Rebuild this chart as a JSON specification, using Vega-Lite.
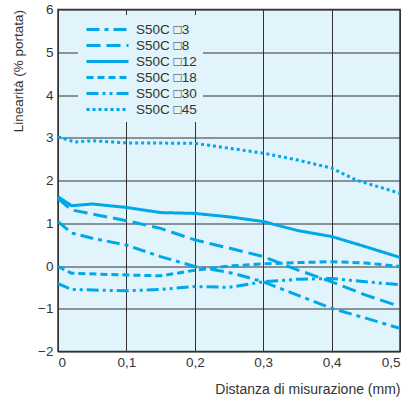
{
  "$schema": "https://vega.github.io/schema/vega-lite/v6.json",
  "width": 342,
  "height": 342,
  "autosize": "none",
  "padding": {"left": 58, "top": 9.5, "right": 13, "bottom": 48.5},
  "background": "white",
  "config": {
    "view": {"fill": "#E1F3FB", "stroke": "#333333", "strokeWidth": 1.5},
    "font": "Liberation Sans"
  },
  "data": {
    "values": [
      {"s": "S50C □3", "o": 1, "x": 0, "y": 1.04},
      {"s": "S50C □3", "o": 1, "x": 0.02, "y": 0.77},
      {"s": "S50C □3", "o": 1, "x": 0.05, "y": 0.65},
      {"s": "S50C □3", "o": 1, "x": 0.1, "y": 0.49},
      {"s": "S50C □3", "o": 1, "x": 0.15, "y": 0.22},
      {"s": "S50C □3", "o": 1, "x": 0.2, "y": -0.01},
      {"s": "S50C □3", "o": 1, "x": 0.256, "y": -0.17},
      {"s": "S50C □3", "o": 1, "x": 0.3, "y": -0.37},
      {"s": "S50C □3", "o": 1, "x": 0.35, "y": -0.68},
      {"s": "S50C □3", "o": 1, "x": 0.4, "y": -0.99},
      {"s": "S50C □3", "o": 1, "x": 0.45, "y": -1.22},
      {"s": "S50C □3", "o": 1, "x": 0.5, "y": -1.46},
      {"s": "S50C □8", "o": 2, "x": 0, "y": 1.58},
      {"s": "S50C □8", "o": 2, "x": 0.02, "y": 1.31},
      {"s": "S50C □8", "o": 2, "x": 0.1, "y": 1.06},
      {"s": "S50C □8", "o": 2, "x": 0.15, "y": 0.88},
      {"s": "S50C □8", "o": 2, "x": 0.2, "y": 0.61},
      {"s": "S50C □8", "o": 2, "x": 0.25, "y": 0.42},
      {"s": "S50C □8", "o": 2, "x": 0.3, "y": 0.22},
      {"s": "S50C □8", "o": 2, "x": 0.35, "y": -0.09},
      {"s": "S50C □8", "o": 2, "x": 0.4, "y": -0.37},
      {"s": "S50C □8", "o": 2, "x": 0.45, "y": -0.68},
      {"s": "S50C □8", "o": 2, "x": 0.5, "y": -0.95},
      {"s": "S50C □12", "o": 3, "x": 0, "y": 1.62},
      {"s": "S50C □12", "o": 3, "x": 0.02, "y": 1.41},
      {"s": "S50C □12", "o": 3, "x": 0.05, "y": 1.45},
      {"s": "S50C □12", "o": 3, "x": 0.1, "y": 1.37},
      {"s": "S50C □12", "o": 3, "x": 0.15, "y": 1.25},
      {"s": "S50C □12", "o": 3, "x": 0.2, "y": 1.23},
      {"s": "S50C □12", "o": 3, "x": 0.25, "y": 1.15},
      {"s": "S50C □12", "o": 3, "x": 0.3, "y": 1.04},
      {"s": "S50C □12", "o": 3, "x": 0.35, "y": 0.83},
      {"s": "S50C □12", "o": 3, "x": 0.4, "y": 0.69},
      {"s": "S50C □12", "o": 3, "x": 0.45, "y": 0.45},
      {"s": "S50C □12", "o": 3, "x": 0.5, "y": 0.2},
      {"s": "S50C □18", "o": 4, "x": 0, "y": -0.01},
      {"s": "S50C □18", "o": 4, "x": 0.02, "y": -0.17},
      {"s": "S50C □18", "o": 4, "x": 0.1, "y": -0.21},
      {"s": "S50C □18", "o": 4, "x": 0.15, "y": -0.23},
      {"s": "S50C □18", "o": 4, "x": 0.2, "y": -0.1},
      {"s": "S50C □18", "o": 4, "x": 0.25, "y": 0.0},
      {"s": "S50C □18", "o": 4, "x": 0.3, "y": 0.05},
      {"s": "S50C □18", "o": 4, "x": 0.35, "y": 0.08},
      {"s": "S50C □18", "o": 4, "x": 0.4, "y": 0.1},
      {"s": "S50C □18", "o": 4, "x": 0.45, "y": 0.07},
      {"s": "S50C □18", "o": 4, "x": 0.5, "y": -0.01},
      {"s": "S50C □30", "o": 5, "x": 0, "y": -0.41},
      {"s": "S50C □30", "o": 5, "x": 0.02, "y": -0.55},
      {"s": "S50C □30", "o": 5, "x": 0.1, "y": -0.58},
      {"s": "S50C □30", "o": 5, "x": 0.15, "y": -0.55},
      {"s": "S50C □30", "o": 5, "x": 0.2, "y": -0.48},
      {"s": "S50C □30", "o": 5, "x": 0.25, "y": -0.5},
      {"s": "S50C □30", "o": 5, "x": 0.3, "y": -0.37},
      {"s": "S50C □30", "o": 5, "x": 0.35, "y": -0.31},
      {"s": "S50C □30", "o": 5, "x": 0.4, "y": -0.29},
      {"s": "S50C □30", "o": 5, "x": 0.45, "y": -0.37},
      {"s": "S50C □30", "o": 5, "x": 0.5, "y": -0.44},
      {"s": "S50C □45", "o": 6, "x": 0, "y": 3.02},
      {"s": "S50C □45", "o": 6, "x": 0.025, "y": 2.9},
      {"s": "S50C □45", "o": 6, "x": 0.05, "y": 2.93},
      {"s": "S50C □45", "o": 6, "x": 0.1, "y": 2.88},
      {"s": "S50C □45", "o": 6, "x": 0.2, "y": 2.87},
      {"s": "S50C □45", "o": 6, "x": 0.3, "y": 2.64},
      {"s": "S50C □45", "o": 6, "x": 0.35, "y": 2.48},
      {"s": "S50C □45", "o": 6, "x": 0.4, "y": 2.29},
      {"s": "S50C □45", "o": 6, "x": 0.436, "y": 2.01},
      {"s": "S50C □45", "o": 6, "x": 0.5, "y": 1.7}
    ]
  },
  "mark": {"type": "line", "strokeWidth": 3, "color": "#00A8E8", "clip": true},
  "encoding": {
    "x": {
      "field": "x", "type": "quantitative",
      "scale": {"domain": [0, 0.5], "nice": false, "zero": false},
      "axis": {
        "title": "Distanza di misurazione (mm)",
        "values": [0, 0.1, 0.2, 0.3, 0.4, 0.5],
        "labelExpr": "datum.value == 0 ? '0' : replace(format(datum.value, '.1f'), '.', ',')",
        "labelFlush": true,
        "labelFontSize": 13.5, "labelColor": "#333333", "labelPadding": 4,
        "ticks": false, "domain": false,
        "grid": true, "gridColor": "#333333", "gridWidth": 1, "gridOpacity": 1,
        "titleFontSize": 14, "titleFontWeight": "normal", "titleColor": "#333333",
        "titleAnchor": "end", "titlePadding": 13
      }
    },
    "y": {
      "field": "y", "type": "quantitative",
      "scale": {"domain": [-2, 6], "nice": false, "zero": false},
      "axis": {
        "title": "Linearità (% portata)",
        "values": [-2, -1, 0, 1, 2, 3, 4, 5, 6],
        "labelFontSize": 13.5, "labelColor": "#333333", "labelPadding": 5,
        "ticks": false, "domain": false,
        "grid": true, "gridColor": "#333333", "gridWidth": 1, "gridOpacity": 1,
        "titleFontSize": 13.5, "titleFontWeight": "normal", "titleColor": "#333333",
        "titleAnchor": "end", "titlePadding": 12
      }
    },
    "strokeDash": {
      "field": "s", "type": "nominal",
      "sort": {"field": "o"},
      "scale": {
        "domain": ["S50C □3", "S50C □8", "S50C □12", "S50C □18", "S50C □30", "S50C □45"],
        "range": [[13, 5, 4, 5], [14, 6], [1, 0], [7, 4], [12, 4, 3, 4, 3, 4], [3, 3]]
      },
      "legend": {
        "title": null,
        "orient": "none",
        "legendX": 20,
        "legendY": 5.5,
        "fillColor": "#E1F3FB",
        "padding": 6,
        "symbolType": "M-3,0H3",
        "symbolSize": 196,
        "symbolStrokeWidth": 3,
        "symbolStrokeColor": "#00A8E8",
        "symbolFillColor": "transparent",
        "symbolOffset": 15,
        "labelFontSize": 13.5,
        "labelColor": "#333333",
        "labelOffset": 20,
        "rowPadding": 1
      }
    },
    "order": {"field": "x"}
  }
}
